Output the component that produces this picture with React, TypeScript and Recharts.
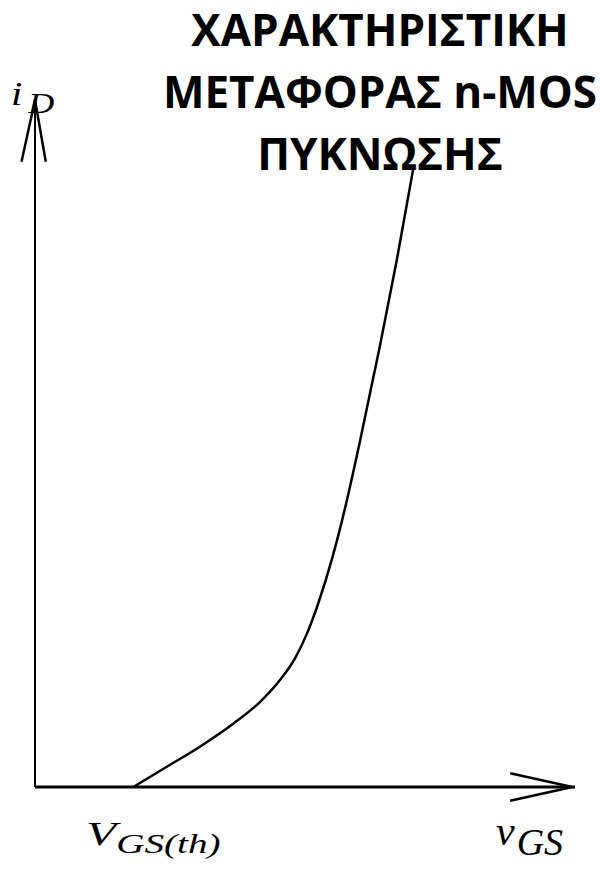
import { LineChart, Line, XAxis, YAxis, ReferenceLine } from "recharts"

// transfer characteristic of an enhancement n-MOS: i_D vs v_GS (arbitrary units)
const vgs = [1.82, 2.41, 3.06, 3.67, 4.17, 4.54, 4.82, 5.04, 5.24, 5.5, 5.76, 6.02, 6.39, 6.7, 7.0]
const iD = [0, 0.28, 0.59, 0.92, 1.24, 1.56, 1.88, 2.24, 2.66, 3.32, 4.12, 5.04, 6.43, 7.67, 8.98]

const titleLines = ["ΧΑΡΑΚΤΗΡΙΣΤΙΚΗ", "ΜΕΤΑΦΟΡΑΣ n-MOS", "ΠΥΚΝΩΣΗΣ"]

const X_MAX = 10
const Y_MAX = 10

const curve = vgs.map((v, i) => ({ vgs: v, id: iD[i] }))

const W = 600
const H = 871
const margin = { top: 100, right: 25, bottom: 84, left: 35 }

const math: React.CSSProperties = {
  position: "absolute",
  fontFamily: "'Liberation Serif', serif",
  fontStyle: "italic",
  color: "#000",
  lineHeight: 1,
  whiteSpace: "nowrap",
  transformOrigin: "left center",
}

export default function App() {
  return (
    <div style={{ position: "absolute", left: 0, top: 0, width: W, height: H, background: "#fff" }}>
      <LineChart width={W} height={H} data={curve} margin={margin}>
        <XAxis type="number" dataKey="vgs" domain={[0, X_MAX]} hide />
        <YAxis type="number" domain={[0, Y_MAX]} hide />
        <ReferenceLine x={0} stroke="#000" strokeWidth={2} />
        <ReferenceLine y={0} stroke="#000" strokeWidth={3} />
        {/* arrow heads */}
        <ReferenceLine
          segment={[{ x: -0.25, y: Y_MAX - 0.9 }, { x: 0, y: Y_MAX }]}
          stroke="#000"
          strokeWidth={2.5}
          ifOverflow="visible"
        />
        <ReferenceLine
          segment={[{ x: 0.2, y: Y_MAX - 0.9 }, { x: 0, y: Y_MAX }]}
          stroke="#000"
          strokeWidth={2.5}
          ifOverflow="visible"
        />
        <ReferenceLine
          segment={[{ x: X_MAX - 1.2, y: 0.2 }, { x: X_MAX - 0.05, y: 0 }]}
          stroke="#000"
          strokeWidth={2.5}
          ifOverflow="visible"
        />
        <ReferenceLine
          segment={[{ x: X_MAX - 1.2, y: -0.2 }, { x: X_MAX - 0.05, y: 0 }]}
          stroke="#000"
          strokeWidth={2.5}
          ifOverflow="visible"
        />
        <Line
          type="monotone"
          dataKey="id"
          stroke="#000"
          strokeWidth={2.5}
          dot={false}
          isAnimationActive={false}
        />
      </LineChart>

      {/* axis labels */}
      <div style={{ ...math, left: 11, top: 77, fontSize: 34, transform: "scaleX(1.2)" }}>
        i<span style={{ fontSize: 30, marginLeft: 5, position: "relative", top: 8 }}>D</span>
      </div>
      <div style={{ ...math, left: 86, top: 817, fontSize: 34, transform: "scaleX(1.45)" }}>
        V<span style={{ fontSize: 27, position: "relative", top: 8 }}>GS(th)</span>
      </div>
      <div style={{ ...math, left: 496, top: 810, fontSize: 42 }}>
        v<span style={{ fontSize: 38, marginLeft: 2, position: "relative", top: 10 }}>GS</span>
      </div>

      {/* title */}
      <div
        style={{
          position: "absolute",
          left: 160,
          top: -2,
          width: 440,
          textAlign: "center",
          fontFamily: "'Open Sans', sans-serif",
          fontWeight: 700,
          fontSize: 44,
          lineHeight: "62px",
          color: "#000",
        }}
      >
        {titleLines.map((t) => (
          <div key={t} style={{ whiteSpace: "nowrap" }}>{t}</div>
        ))}
      </div>
    </div>
  )
}
